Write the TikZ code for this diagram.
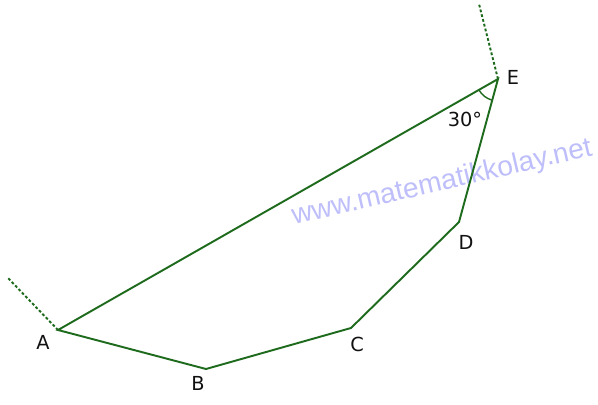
\documentclass[tikz,border=0pt]{standalone}
\usepackage{fontspec}
\setmainfont{DejaVu Sans}
\newfontfamily\markfont{Liberation Sans}
\usetikzlibrary{calc}
\definecolor{Edge}{HTML}{1E6B1E}
\definecolor{Mark}{HTML}{BEBEFA}
\definecolor{Ink}{HTML}{111111}

\begin{document}
\begin{tikzpicture}[
  x=0.02cm, y=-0.02cm,
  font=\fontsize{11}{13}\selectfont,
  side/.style={draw=Edge, line width=1.1pt, line join=miter},
  extend/.style={draw=Edge, line width=1.1pt, dash pattern=on 1.6pt off 1.2pt},
  vlabel/.style={text=Ink, inner sep=0pt},
  watermark/.style={text=Mark, font=\markfont\fontsize{16}{18}\selectfont, rotate=13.1}
]
\useasboundingbox (0,0) rectangle (598,405);

\coordinate (A) at (58,330);
\coordinate (B) at (206,369);
\coordinate (C) at (351,328);
\coordinate (D) at (459,222);
\coordinate (E) at (498,79);
\coordinate (Aout) at (7,277);
\coordinate (Eout) at (479,4);

\node[watermark] (site) at (442,183) {www.matematikkolay.net};

\draw[side] (A) -- (B) -- (C) -- (D) -- (E) -- cycle;
\draw[extend] (A) -- (Aout);
\draw[extend] (E) -- (Eout);

% angle at E
\draw[Edge, line width=0.8pt] ($(E)!0.44cm!(A)$) arc[start angle=209.7, end angle=254.7, radius=0.44cm];

\node[vlabel] (labA) at (43,342) {A};
\node[vlabel] (labB) at (198,383) {B};
\node[vlabel] (labC) at (357,344) {C};
\node[vlabel] (labD) at (466,242) {D};
\node[vlabel] (labE) at (513,77) {E};
\node[vlabel] (ang) at (465,119) {30°};
\end{tikzpicture}
\end{document}
